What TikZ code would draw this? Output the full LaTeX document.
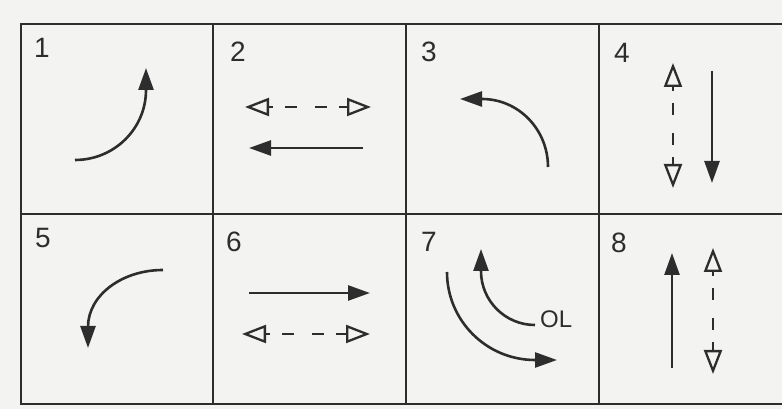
\documentclass[tikz,border=0pt]{standalone}
\usepackage{fontspec}
\setmainfont{Liberation Sans}
\usetikzlibrary{arrows.meta}
\definecolor{ink}{RGB}{45,45,45}
\definecolor{paper}{RGB}{243,243,241}
\begin{document}
\begin{tikzpicture}[x=1pt,y=1pt,
  gridline/.style={draw=ink, line width=2.4pt},
  solidarrow/.style={draw=ink, line width=2.6pt, -{Triangle[length=22pt,width=15pt]}},
  dasharrow/.style={draw=ink, line width=2.3pt,
    dash pattern=on 5pt off 12pt on 12pt off 18pt on 12pt off 12pt on 30pt off 1pt,
    {Triangle[open,length=24pt,width=18pt]}-{Triangle[open,length=24pt,width=18pt]}},
  num/.style={font=\fontsize{28}{28}\selectfont, text=ink, anchor=base west, inner sep=0pt},
  lbl/.style={font=\fontsize{24}{24}\selectfont, text=ink, anchor=base west, inner sep=0pt},
]
\fill[paper] (0,0) rectangle (782,409);
\useasboundingbox (0,0) rectangle (782,409);
% grid
\draw[gridline] (782,385) -- (21,385) -- (21,5) -- (782,5);
\draw[gridline] (21,195) -- (782,195);
\foreach \gx in {213,406,599} \draw[gridline] (\gx,385) -- (\gx,5);
% numbers
\node[num] (n1) at (34,351) {1};
\node[num] (n2) at (230,347) {2};
\node[num] (n3) at (421,347) {3};
\node[num] (n4) at (614,346) {4};
\node[num] (n5) at (35,161) {5};
\node[num] (n6) at (226,157) {6};
\node[num] (n7) at (421,157) {7};
\node[num] (n8) at (611,156) {8};
% cell 1
\draw[solidarrow] (75,249) arc[start angle=270, end angle=360, x radius=71pt, y radius=70pt] -- (146,341);
% cell 2
\draw[dasharrow] (245,302) -- (371,302);
\draw[solidarrow] (363,261) -- (249,261);
% cell 3
\draw[solidarrow] (548,242) arc[start angle=0, end angle=90, x radius=66pt, y radius=68pt] -- (460,310);
% cell 4
\draw[dasharrow] (673,346) -- (673,221);
\draw[solidarrow] (712,338) -- (712,226);
% cell 5
\draw[solidarrow] (163,139) arc[start angle=90, end angle=180, x radius=75pt, y radius=57pt] -- (88,61);
% cell 6
\draw[solidarrow] (249,116) -- (370,116);
\draw[dasharrow] (242,75) -- (370,75);
% cell 7
\draw[solidarrow] (447,137) arc[start angle=180, end angle=270, radius=88pt] -- (557,49);
\draw[solidarrow] (535,84) arc[start angle=270, end angle=180, radius=54pt] -- (481,160);
\node[lbl] (ol) at (540,81) {OL};
% cell 8
\draw[solidarrow] (672,41) -- (672,156);
\draw[dasharrow] (713,161) -- (713,35);
\end{tikzpicture}
\end{document}
